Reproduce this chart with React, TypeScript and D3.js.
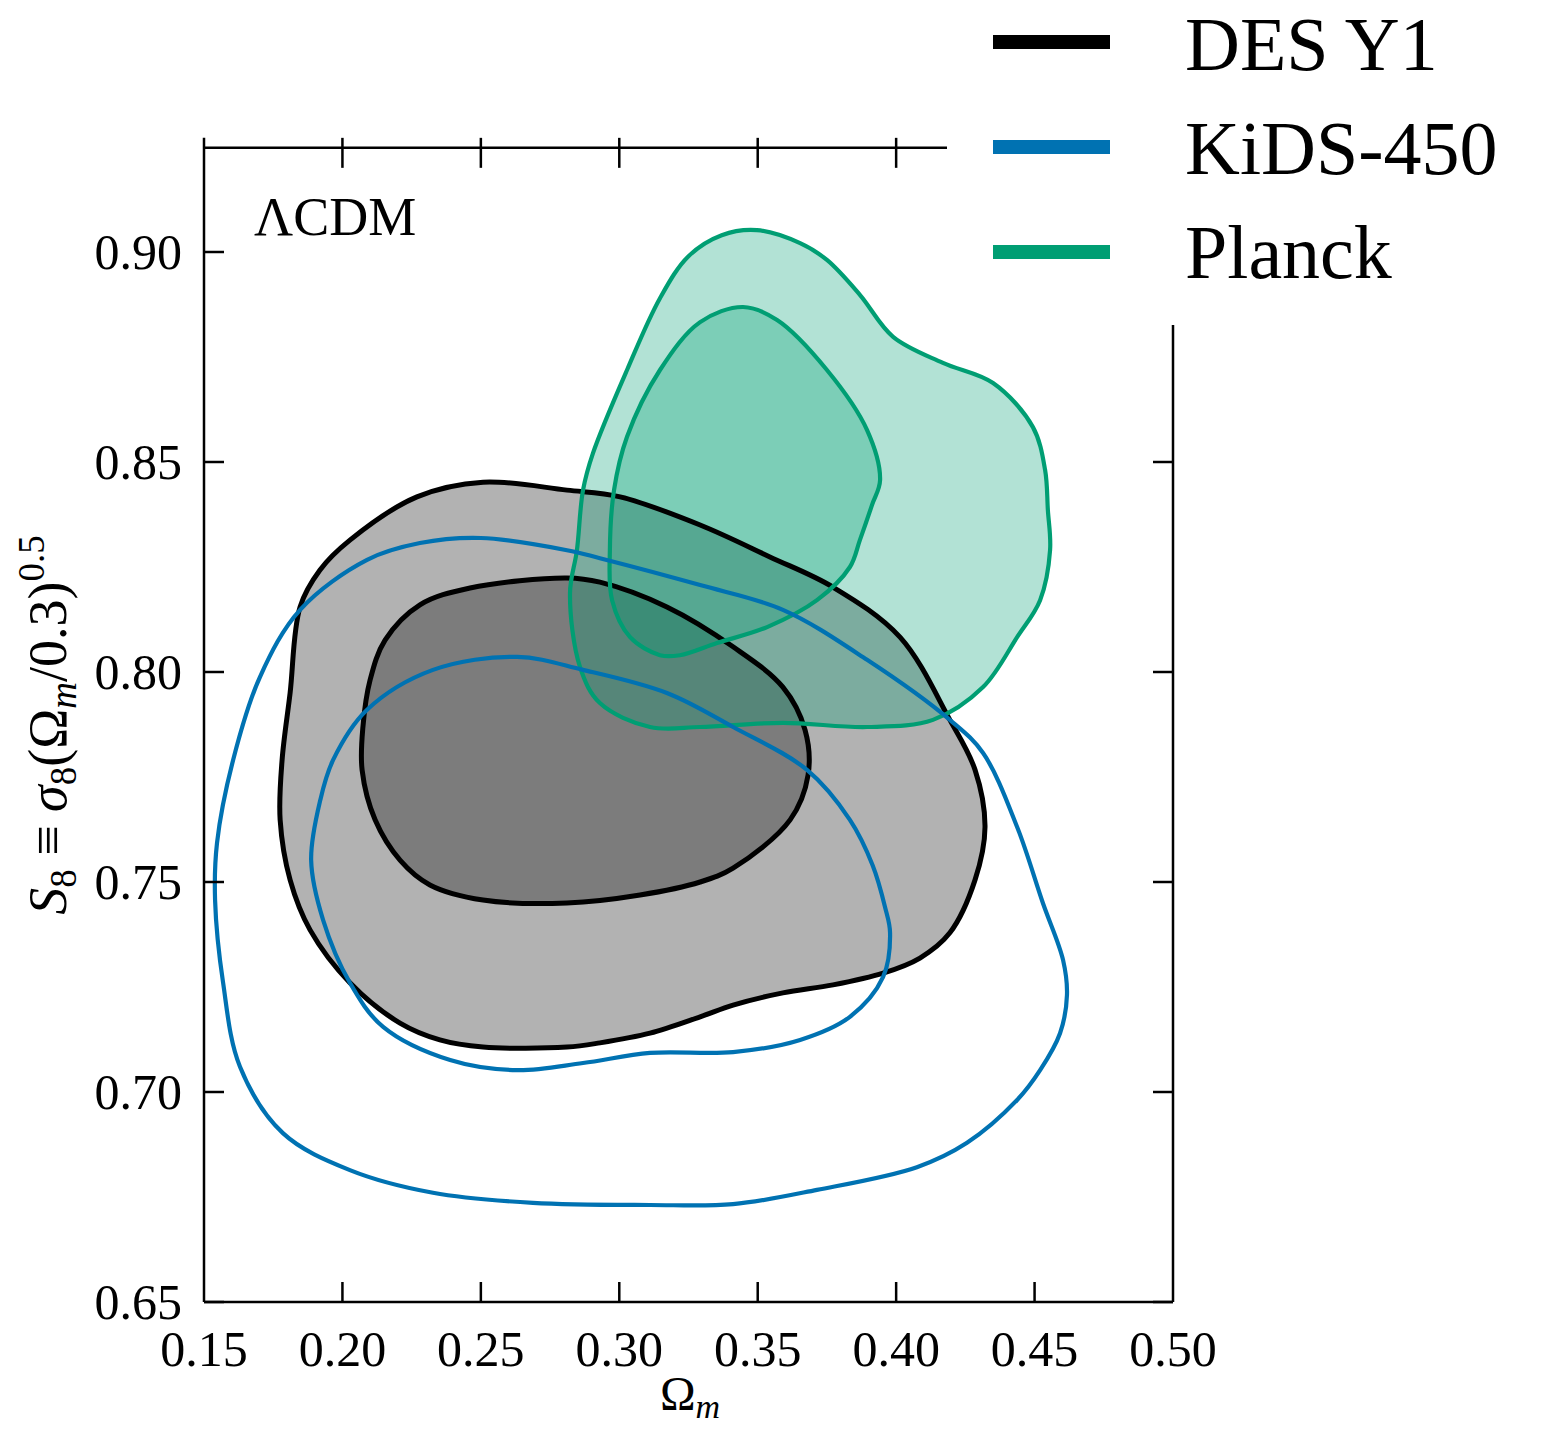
import React from "react";
import * as d3 from "d3";

// tick values
const xTicks = [0.15, 0.2, 0.25, 0.3, 0.35, 0.4, 0.45, 0.5];
const yTicks = [0.65, 0.7, 0.75, 0.8, 0.85, 0.9];

// contour outlines, [Omega_m, S8]
const desOuter: [number, number][] = [
  [0.2508, 0.8452], [0.2811, 0.8433], [0.3003, 0.8417], [0.3292, 0.835], [0.3544, 0.8274],
  [0.3772, 0.8202], [0.4014, 0.8083], [0.4194, 0.7886], [0.4285, 0.7767], [0.4321, 0.7631],
  [0.4285, 0.7505], [0.4194, 0.7379], [0.4086, 0.7319], [0.3953, 0.7283], [0.3772, 0.7255],
  [0.3591, 0.7236], [0.3411, 0.7207], [0.3292, 0.7179], [0.3111, 0.714], [0.293, 0.7117],
  [0.2811, 0.7107], [0.2508, 0.7107], [0.2352, 0.7124], [0.2208, 0.7164], [0.2027, 0.726],
  [0.1883, 0.7386], [0.1811, 0.7505], [0.1775, 0.7648], [0.1782, 0.779], [0.1811, 0.795],
  [0.1847, 0.8155], [0.1919, 0.8243], [0.2027, 0.8314], [0.2269, 0.8417],
];
const desInner: [number, number][] = [
  [0.2811, 0.8224], [0.293, 0.8214], [0.3172, 0.8155], [0.3411, 0.806], [0.3591, 0.7964],
  [0.3671, 0.7862], [0.3682, 0.7755], [0.3617, 0.7648], [0.3411, 0.7533], [0.3292, 0.75],
  [0.3075, 0.7469], [0.2811, 0.745], [0.2508, 0.7457], [0.2316, 0.7493], [0.2208, 0.7552],
  [0.2118, 0.7648], [0.2071, 0.7767], [0.2074, 0.7869], [0.21, 0.7981], [0.2154, 0.8076],
  [0.228, 0.816], [0.2461, 0.82],
];
const kidsOuter: [number, number][] = [
  [0.25, 0.8319], [0.2811, 0.829], [0.293, 0.8271], [0.3292, 0.8207], [0.3591, 0.8148],
  [0.3895, 0.8029], [0.4194, 0.7886], [0.4314, 0.7807], [0.4437, 0.7631], [0.453, 0.745],
  [0.4603, 0.7314], [0.4617, 0.7231], [0.4592, 0.714], [0.452, 0.7052], [0.4437, 0.6981],
  [0.4256, 0.6879], [0.4075, 0.6821], [0.3714, 0.6767], [0.3411, 0.6733], [0.3111, 0.6731],
  [0.2688, 0.6736], [0.2327, 0.676], [0.2027, 0.6814], [0.1785, 0.6902], [0.163, 0.706],
  [0.1569, 0.726], [0.154, 0.7457], [0.1547, 0.7593], [0.1605, 0.779], [0.1702, 0.7988],
  [0.1847, 0.8148], [0.2089, 0.8267], [0.228, 0.8307],
];
const kidsInner: [number, number][] = [
  [0.2631, 0.8036], [0.2869, 0.8005], [0.3172, 0.795], [0.3411, 0.7869], [0.3678, 0.7767],
  [0.3833, 0.7648], [0.3915, 0.754], [0.396, 0.744], [0.3978, 0.7379], [0.3953, 0.7274],
  [0.3833, 0.7179], [0.3653, 0.7124], [0.3411, 0.7095], [0.3111, 0.7093], [0.2869, 0.7069],
  [0.2631, 0.7052], [0.2389, 0.7076], [0.2147, 0.7155], [0.2027, 0.726], [0.193, 0.741],
  [0.1887, 0.7552], [0.192, 0.7695], [0.1966, 0.779], [0.2089, 0.791], [0.2327, 0.8005],
];
const planckOuter: [number, number][] = [
  [0.3497, 0.9052], [0.3653, 0.9021], [0.375, 0.8981], [0.3869, 0.8898], [0.3989, 0.8798],
  [0.4169, 0.8736], [0.435, 0.8688], [0.4494, 0.8583], [0.4538, 0.8481], [0.4548, 0.8386],
  [0.4556, 0.829], [0.452, 0.8171], [0.4437, 0.8083], [0.4314, 0.7964], [0.4133, 0.7886],
  [0.3895, 0.7869], [0.3591, 0.7879], [0.3292, 0.7869], [0.3111, 0.7869], [0.293, 0.7926],
  [0.2858, 0.8012], [0.2822, 0.8188], [0.2847, 0.829], [0.2869, 0.8433], [0.2905, 0.8521],
  [0.3028, 0.8719], [0.3147, 0.889], [0.325, 0.899], [0.337, 0.904],
];
const planckInner: [number, number][] = [
  [0.3447, 0.8869], [0.357, 0.8838], [0.375, 0.8719], [0.3895, 0.8576], [0.3942, 0.8457],
  [0.3913, 0.8398], [0.3869, 0.8314], [0.3833, 0.825], [0.3714, 0.8171], [0.3534, 0.8107],
  [0.3353, 0.8069], [0.3219, 0.804], [0.3147, 0.804], [0.3039, 0.8083], [0.2974, 0.8171],
  [0.2966, 0.829], [0.2981, 0.8433], [0.3028, 0.856], [0.3147, 0.8719], [0.3292, 0.8833],
];

const seriesNames = ["DES Y1", "KiDS-450", "Planck"];
const seriesColors = ["#000000", "#0072b2", "#009e73"];

const FONT = "'Liberation Serif', 'DejaVu Serif', serif";

export default function App() {
  const W = 1542;
  const H = 1431;
  const left = 204, right = 1173, bottom = 1302;

  const x = d3.scaleLinear().domain([0.15, 0.5]).range([left, right]);
  const y = d3.scaleLinear().domain([0.65, 0.9]).range([bottom, 252]);
  const top = y(0.9248);

  const contour = d3
    .line<[number, number]>()
    .x((d) => x(d[0]))
    .y((d) => y(d[1]))
    .curve(d3.curveCatmullRomClosed.alpha(0.5));

  const inner = xTicks.slice(1, -1);

  return (
    <svg width={W} height={H} style={{ position: "absolute", left: 0, top: 0 }} fontFamily={FONT}>
      <rect width={W} height={H} fill="#fff" />

      {/* filled contours */}
      <path d={contour(desOuter) || ""} fill="#000" fillOpacity={0.3} />
      <path d={contour(desInner) || ""} fill="#000" fillOpacity={0.3} />
      <path d={contour(planckOuter) || ""} fill={seriesColors[2]} fillOpacity={0.3} />
      <path d={contour(planckInner) || ""} fill={seriesColors[2]} fillOpacity={0.3} />

      {/* outlines */}
      <path d={contour(desOuter) || ""} fill="none" stroke={seriesColors[0]} strokeWidth={5} />
      <path d={contour(desInner) || ""} fill="none" stroke={seriesColors[0]} strokeWidth={5} />
      <path d={contour(planckOuter) || ""} fill="none" stroke={seriesColors[2]} strokeWidth={4.2} />
      <path d={contour(planckInner) || ""} fill="none" stroke={seriesColors[2]} strokeWidth={4.2} />
      <path d={contour(kidsOuter) || ""} fill="none" stroke={seriesColors[1]} strokeWidth={4.2} />
      <path d={contour(kidsInner) || ""} fill="none" stroke={seriesColors[1]} strokeWidth={4.2} />

      {/* frame */}
      <g stroke="#000" strokeWidth={2.5} fill="none">
        <line x1={left} x2={left} y1={top - 10} y2={bottom} />
        <line x1={left} x2={right} y1={bottom} y2={bottom} />
        <line x1={right} x2={right} y1={top} y2={bottom} />
        <line x1={left} x2={right} y1={top} y2={top} />
        {inner.map((t) => (
          <line key={"b" + t} x1={x(t)} x2={x(t)} y1={bottom} y2={bottom - 20} />
        ))}
        {inner.map((t) => (
          <line key={"t" + t} x1={x(t)} x2={x(t)} y1={top - 10} y2={top + 20} />
        ))}
        {yTicks.map((t) => (
          <line key={"l" + t} x1={left} x2={left + 20} y1={y(t)} y2={y(t)} />
        ))}
        {yTicks.map((t) => (
          <line key={"r" + t} x1={right} x2={right - 20} y1={y(t)} y2={y(t)} />
        ))}
      </g>

      {/* tick labels */}
      <g fontSize={50} fill="#000">
        {xTicks.map((t) => (
          <text key={"xl" + t} x={x(t)} y={bottom + 64} textAnchor="middle">
            {t.toFixed(2)}
          </text>
        ))}
        {yTicks.map((t) => (
          <text key={"yl" + t} x={left - 22} y={y(t) + 17} textAnchor="end">
            {t.toFixed(2)}
          </text>
        ))}
      </g>

      {/* axis labels */}
      <text x={690} y={1410} textAnchor="middle" fontSize={48}>
        Ω<tspan fontStyle="italic" fontSize={34} dy={8}>m</tspan>
      </text>
      <text transform="translate(66,725) rotate(-90)" textAnchor="middle" fontSize={54}>
        <tspan fontStyle="italic">S</tspan>
        <tspan fontSize={37} dy={10}>8</tspan>
        <tspan dy={-10}> ≡ </tspan>
        <tspan fontStyle="italic">σ</tspan>
        <tspan fontSize={37} dy={10}>8</tspan>
        <tspan dy={-10}>(Ω</tspan>
        <tspan fontStyle="italic" fontSize={37} dy={10}>m</tspan>
        <tspan dy={-10}>/0.3)</tspan>
        <tspan fontSize={37} dy={-22}>0.5</tspan>
      </text>

      <text x={254} y={235} fontSize={54}>ΛCDM</text>

      {/* legend */}
      <rect x={947} y={0} width={W - 947} height={325} fill="#fff" />
      {seriesNames.map((name, i) => (
        <g key={name}>
          <line x1={993} x2={1110} y1={42 + i * 105} y2={42 + i * 105} stroke={seriesColors[i]} strokeWidth={14} />
          <text x={1185} y={70 + i * 104} fontSize={76}>
            {name}
          </text>
        </g>
      ))}
    </svg>
  );
}
